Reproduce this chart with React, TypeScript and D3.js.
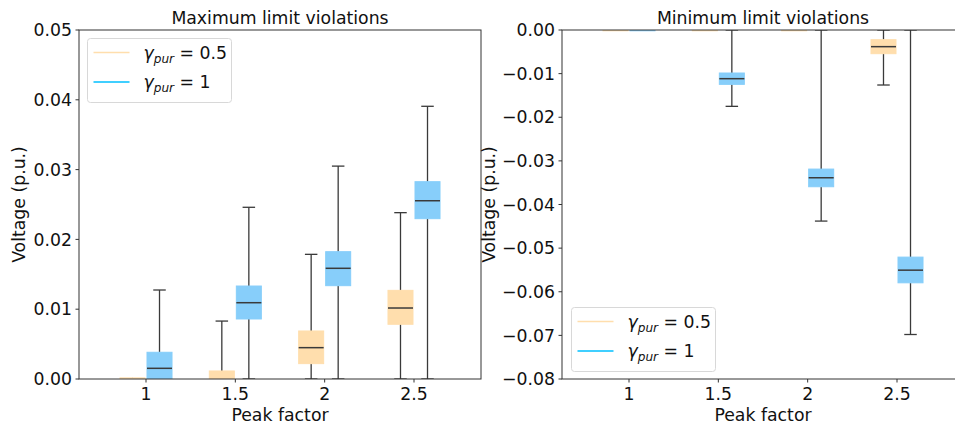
import React from "react";
import * as d3 from "d3";

// ---- data ----
const categories = [1, 1.5, 2, 2.5];
const seriesLabels = ["0.5", "1"];
// each entry: [lowerWhisker, q1, median, q3, upperWhisker]
const maxGammaHalf = [
  [0, 0, 0, 0.00016, 0],
  [0, 0, 0, 0.00115, 0.0083],
  [0, 0.0022, 0.00449, 0.00688, 0.01786],
  [0, 0.00784, 0.01017, 0.0127, 0.02383],
];
const maxGammaOne = [
  [0, 0, 0.00153, 0.00383, 0.01275],
  [0, 0.0086, 0.01093, 0.01332, 0.0246],
  [0, 0.01337, 0.01586, 0.01824, 0.0305],
  [0, 0.02297, 0.02554, 0.02827, 0.03907],
];
const minGammaHalf = [
  [0, -0.00016, 0, 0, 0],
  [0, -0.00016, 0, 0, 0],
  [0, -0.00016, 0, 0, 0],
  [-0.01261, -0.00543, -0.00382, -0.00222, 0],
];
const minGammaOne = [
  [0, -0.00016, 0, 0, 0],
  [-0.0175, -0.01246, -0.01116, -0.00986, 0],
  [-0.0438, -0.03593, -0.03387, -0.03188, 0],
  [-0.0698, -0.05795, -0.05505, -0.05206, 0],
];
const maxTicks = [0, 0.01, 0.02, 0.03, 0.04, 0.05];
const minTicks = [0, -0.01, -0.02, -0.03, -0.04, -0.05, -0.06, -0.07, -0.08];

const FILL = ["#FFDEAD", "#87CEFA"];
const LEGEND_LINE = ["#FFDEAD", "#00BFFF"];
const FONT = "DejaVu Sans, sans-serif";
const FS = 17.3;

type PanelProps = {
  id: string;
  left: number;
  title: string;
  yDomain: [number, number];
  ticks: number[];
  data: number[][][];
  legendX: number;
  legendY: number;
  ylabelX: number;
};

const fmt = (v: number) => {
  const s = Math.abs(v).toFixed(2);
  return v < 0 ? "\u2212" + s : s;
};

function Panel(p: PanelProps) {
  const top = 30;
  const bottom = 379;
  const width = 402;
  const right = p.left + width;
  const x = d3.scaleLinear().domain([0.625, 2.875]).range([p.left, right]);
  const y = d3.scaleLinear().domain(p.yDomain).range([bottom, top]);
  const offset = 0.0756;
  const boxW = x(0.14) - x(0);
  const capW = boxW / 2;
  const spine = "#333";
  const whisk = "#3a3a3a";
  return (
    <g>
      <defs>
        <clipPath id={p.id}>
          <rect x={p.left} y={top} width={width} height={bottom - top} />
        </clipPath>
      </defs>
      <g clipPath={`url(#${p.id})`}>
        {p.data.map((series, si) =>
          series.map((st, ci) => {
            const cx = x(categories[ci] + (si === 0 ? -offset : offset));
            const [lo, q1, med, q3, hi] = st;
            return (
              <g key={`${si}-${ci}`}>
                <line x1={cx} x2={cx} y1={y(q3)} y2={y(hi)} stroke={whisk} strokeWidth={1.3} />
                <line x1={cx} x2={cx} y1={y(q1)} y2={y(lo)} stroke={whisk} strokeWidth={1.3} />
                <line x1={cx - capW / 2} x2={cx + capW / 2} y1={y(hi)} y2={y(hi)} stroke={whisk} strokeWidth={1.3} />
                <line x1={cx - capW / 2} x2={cx + capW / 2} y1={y(lo)} y2={y(lo)} stroke={whisk} strokeWidth={1.3} />
                <rect
                  x={cx - boxW / 2}
                  y={Math.min(y(q3), y(q1))}
                  width={boxW}
                  height={Math.max(Math.abs(y(q1) - y(q3)), 0.8)}
                  fill={FILL[si]}
                  stroke={FILL[si]}
                  strokeWidth={1}
                />
                {med !== 0 && (
                  <line x1={cx - boxW / 2} x2={cx + boxW / 2} y1={y(med)} y2={y(med)} stroke="#3a3a3a" strokeWidth={1.5} />
                )}
              </g>
            );
          })
        )}
      </g>
      {/* spines */}
      <rect x={p.left} y={top} width={width} height={bottom - top} fill="none" stroke={spine} strokeWidth={1} />
      {/* y ticks */}
      {p.ticks.map((t) => (
        <g key={t}>
          <line x1={p.left - 3.5} x2={p.left} y1={y(t)} y2={y(t)} stroke={spine} />
          <text x={p.left - 7} y={y(t)} dy="0.36em" textAnchor="end" fontSize={FS} fontFamily={FONT} fill="#111">
            {fmt(t)}
          </text>
        </g>
      ))}
      {/* x ticks */}
      {categories.map((c) => (
        <g key={c}>
          <line x1={x(c)} x2={x(c)} y1={bottom} y2={bottom + 3.5} stroke={spine} />
          <text x={x(c)} y={400} textAnchor="middle" fontSize={FS} fontFamily={FONT} fill="#111">
            {String(c)}
          </text>
        </g>
      ))}
      <text x={(p.left + right) / 2} y={24} textAnchor="middle" fontSize={FS} fontFamily={FONT} fill="#111">
        {p.title}
      </text>
      <text x={(p.left + right) / 2} y={421} textAnchor="middle" fontSize={FS} fontFamily={FONT} fill="#111">
        Peak factor
      </text>
      <text
        transform={`translate(${p.ylabelX},${(top + bottom) / 2}) rotate(-90)`}
        textAnchor="middle"
        fontSize={FS}
        fontFamily={FONT}
        fill="#111"
      >
        Voltage (p.u.)
      </text>
      {/* legend */}
      <g transform={`translate(${p.legendX},${p.legendY})`}>
        <rect x={0} y={0} width={144} height={64} rx={3} fill="white" fillOpacity={0.85} stroke="#d8d8d8" />
        {seriesLabels.map((lab, i) => (
          <g key={lab} transform={`translate(0,${14 + i * 29.5})`}>
            <line x1={6} x2={42} y1={0} y2={0} stroke={LEGEND_LINE[i]} strokeWidth={1.5} />
            <text x={56} y={6} fontSize={FS} fontFamily={FONT} fill="#111">
              <tspan fontStyle="italic">γ</tspan>
              <tspan fontStyle="italic" fontSize={FS * 0.7} dy={4}>pur</tspan>
              <tspan dy={-4}>{` = ${lab}`}</tspan>
            </text>
          </g>
        ))}
      </g>
    </g>
  );
}

export default function App() {
  return (
    <svg width={955} height={429} style={{ display: "block", position: "absolute", left: 0, top: 0, background: "white" }}>
      <rect width={955} height={429} fill="white" />
      <Panel
        id="clipMax"
        left={79}
        title="Maximum limit violations"
        yDomain={[0, 0.05]}
        ticks={maxTicks}
        data={[maxGammaHalf, maxGammaOne]}
        legendX={87.5}
        legendY={38.5}
        ylabelX={24.5}
      />
      <Panel
        id="clipMin"
        left={562}
        title="Minimum limit violations"
        yDomain={[-0.08, 0]}
        ticks={minTicks}
        data={[minGammaHalf, minGammaOne]}
        legendX={571.5}
        legendY={307.5}
        ylabelX={494.5}
      />
    </svg>
  );
}
